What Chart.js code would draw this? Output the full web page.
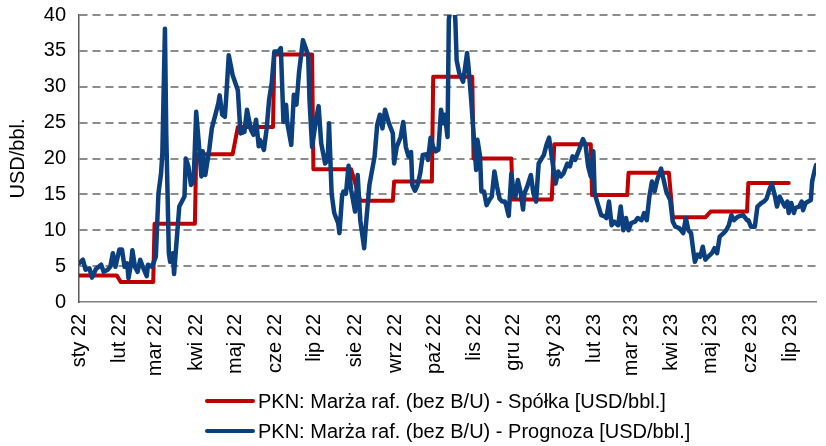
<!DOCTYPE html>
<html>
<head>
<meta charset="utf-8">
<script src="https://cdn.jsdelivr.net/npm/chart.js@4.4.0/dist/chart.umd.min.js"></script>
<style>
  body { margin: 0; background: #fff; }
  #wrap { position: relative; width: 826px; height: 446px; overflow: hidden; font-family: "Liberation Sans", Arial, sans-serif; }
  #legend { position: absolute; left: 205px; top: 386px; }
  .item { display: flex; align-items: center; height: 30px; font-size: 20px; color: #000; white-space: nowrap; }
  .swatch { width: 50px; height: 4px; border-radius: 2px; margin-right: 3px; }
</style>
</head>
<body>
<div id="wrap">
  <canvas id="chart" width="826" height="446"></canvas>
  <div id="legend"></div>
</div>
<script>
// x values are days counted from 1 Jan 2022
const monthLabels = ['sty 22', 'lut 22', 'mar 22', 'kwi 22', 'maj 22', 'cze 22', 'lip 22', 'sie 22', 'wrz 22',
  'paź 22', 'lis 22', 'gru 22', 'sty 23', 'lut 23', 'mar 23', 'kwi 23', 'maj 23', 'cze 23', 'lip 23'];
const monthStarts = [0, 31, 59, 90, 120, 151, 181, 212, 243, 273, 304, 334, 365, 396, 424, 455, 485, 516, 546];

// PKN: Marża raf. - Spółka (step line)
const spolkaDays = [0, 29, 32, 57, 58, 89, 90, 118, 122, 149, 150, 179, 180, 209, 216, 241, 242, 271, 272,
  302, 303, 332, 333, 363, 365, 393, 394, 421, 422, 453, 456, 481, 485, 513, 514, 545];
const spolkaValues = [3.7, 3.7, 2.8, 2.8, 10.9, 10.9, 20.6, 20.6, 24.4, 24.4, 34.5, 34.5, 18.5, 18.5, 14.1, 14.1, 16.8, 16.8, 31.4,
  31.4, 20.0, 20.0, 14.3, 14.3, 22.0, 22.0, 14.9, 14.9, 18.0, 18.0, 11.8, 11.8, 12.6, 12.6, 16.6, 16.6];

// PKN: Marża raf. - Prognoza
const prognozaDays = [0, 3, 5, 8, 10, 13, 17, 19, 22, 24, 26, 28, 31, 33, 35, 37, 38, 40, 41, 43, 45, 47, 49, 52, 53, 56,
  59, 61, 63, 64, 66, 67, 69, 70, 72, 73, 75, 77, 79, 81, 82, 84, 86, 88, 90, 92, 94, 95, 97, 98, 100, 102, 104, 107, 108,
  110, 112, 113, 115, 118, 122, 124, 127, 129, 132, 134, 136, 138, 139, 142, 144, 146, 148, 150, 153, 155, 157, 159, 160,
  163, 165, 167, 169, 172, 176, 177, 179, 182, 184, 186, 189, 191, 192, 194, 196, 199, 200, 202, 203, 205, 207, 209, 212,
  214, 216, 219, 220, 223, 227, 229, 231, 233, 235, 238, 241, 242, 244, 247, 249, 251, 253, 255, 256, 258, 260, 262, 264,
  267, 268, 270, 272, 274, 276, 278, 280, 281, 283, 284, 287, 289, 290, 292, 295, 298, 299, 301, 303, 305, 306, 308, 309,
  311, 313, 315, 317, 319, 321, 323, 325, 327, 328, 330, 332, 333, 335, 337, 339, 341, 342, 344, 347, 349, 351, 353, 357,
  359, 361, 363, 366, 368, 370, 372, 375, 377, 379, 381, 384, 387, 389, 391, 393, 395, 396, 399, 401, 404, 405, 407, 409,
  411, 414, 416, 418, 420, 422, 424, 427, 429, 432, 434, 436, 438, 440, 442, 444, 447, 449, 451, 454, 456, 458, 461, 464,
  466, 468, 470, 472, 473, 475, 477, 479, 481, 483, 486, 488, 490, 492, 495, 497, 499, 501, 503, 506, 510, 513, 514, 516,
  519, 521, 524, 526, 528, 530, 532, 534, 536, 538, 540, 542, 544, 545, 547, 549, 550, 553, 555, 556, 558, 560, 562, 563,
  565, 566];
const prognozaValues = [5.4, 5.9, 4.5, 4.7, 3.4, 4.6, 5.2, 4.2, 4.5, 4.9, 6.8, 4.9, 7.3, 7.3, 4.9, 5.4, 3.3, 5.4, 7.2, 4.9,
  4.2, 5.9, 4.9, 3.6, 5.2, 4.9, 6.3, 15.1, 17.9, 20.7, 38.1, 23.5, 6.8, 5.6, 6.8, 3.9, 8.6, 13.3, 14.0, 14.7, 20.0, 18.9,
  16.3, 16.8, 26.5, 22.1, 17.5, 21.0, 17.7, 18.9, 21.2, 24.2, 25.6, 27.7, 28.8, 26.1, 25.8, 28.4, 34.4, 31.6, 29.5, 23.5,
  23.7, 26.8, 24.0, 23.3, 25.4, 21.7, 22.6, 21.2, 24.0, 28.2, 30.5, 34.9, 34.9, 35.4, 25.1, 27.5, 24.9, 21.9, 28.9, 27.5,
  32.1, 36.5, 34.4, 28.2, 21.6, 25.4, 27.3, 22.1, 19.3, 19.8, 24.9, 15.1, 12.4, 11.0, 9.6, 14.7, 15.4, 15.1, 19.0, 15.6,
  12.6, 17.7, 11.4, 7.5, 10.0, 16.3, 20.3, 24.7, 26.1, 24.2, 26.8, 24.9, 23.5, 19.3, 21.6, 23.0, 25.1, 21.6, 20.3, 20.9,
  16.3, 15.5, 16.3, 17.9, 20.5, 20.6, 19.8, 22.9, 21.6, 21.0, 21.2, 26.8, 24.9, 26.1, 23.0, 39.3, 44.0, 39.3, 33.7, 31.9,
  30.7, 34.7, 33.0, 28.6, 23.5, 18.4, 22.6, 20.3, 15.4, 15.4, 13.5, 14.2, 14.7, 18.2, 16.1, 14.4, 14.0, 14.0, 13.5, 12.0,
  17.9, 16.5, 14.5, 17.0, 15.4, 12.9, 15.1, 16.0, 17.7, 15.1, 14.0, 19.3, 20.5, 21.9, 22.9, 20.3, 16.5, 18.2, 17.5, 17.9,
  19.3, 18.9, 20.3, 19.8, 21.2, 22.7, 21.9, 18.9, 17.5, 21.0, 15.1, 13.3, 12.1, 11.9, 11.7, 14.0, 10.7, 11.2, 10.7, 13.3,
  10.0, 11.7, 10.0, 11.0, 11.2, 11.7, 11.4, 12.4, 11.4, 14.7, 16.8, 15.4, 17.0, 18.6, 17.0, 15.4, 14.2, 11.2, 10.5, 10.3,
  9.6, 11.7, 10.0, 9.6, 6.8, 5.6, 6.6, 6.3, 7.7, 5.9, 6.3, 6.8, 7.5, 6.8, 9.1, 9.6, 10.0, 10.7, 12.1, 11.4, 11.9, 12.1,
  11.4, 11.4, 10.5, 10.5, 13.3, 13.8, 14.0, 14.4, 15.6, 16.5, 15.1, 13.3, 14.7, 14.0, 13.3, 14.0, 12.4, 13.8, 12.4, 13.1,
  13.3, 14.0, 12.8, 13.8, 14.0, 14.2, 16.8, 18.4, 19.1];

const seriesNames = ['PKN: Marża raf. (bez B/U) - Spółka [USD/bbl.]', 'PKN: Marża raf. (bez B/U) - Prognoza [USD/bbl.]'];
const seriesColors = ['#C00000', '#0B3F7E'];

Chart.defaults.font.family = '"Liberation Sans", Arial, sans-serif';
Chart.defaults.color = '#000';

function toPoints(xs, ys) {
  return xs.map((x, i) => ({ x: x, y: ys[i] }));
}

const tickFont = { size: 20 };

new Chart(document.getElementById('chart'), {
  type: 'line',
  data: {
    datasets: [
      {
        label: seriesNames[0],
        data: toPoints(spolkaDays, spolkaValues),
        borderColor: seriesColors[0],
        borderWidth: 4,
        pointRadius: 0,
        tension: 0,
        borderJoinStyle: 'round',
        borderCapStyle: 'round',
        order: 1
      },
      {
        label: seriesNames[1],
        data: toPoints(prognozaDays, prognozaValues),
        borderColor: seriesColors[1],
        borderWidth: 4.5,
        pointRadius: 0,
        tension: 0,
        borderJoinStyle: 'round',
        borderCapStyle: 'round',
        order: 0
      }
    ]
  },
  options: {
    responsive: false,
    animation: false,
    layout: { padding: { top: 15, left: 0, right: 0, bottom: 0 } },
    plugins: {
      legend: { display: false },
      tooltip: { enabled: false }
    },
    scales: {
      x: {
        type: 'linear',
        min: 0,
        max: 566,
        afterBuildTicks: (scale) => {
          scale.ticks = monthStarts.map(v => ({ value: v }));
        },
        afterFit: (scale) => { scale.height = 144; },
        grid: { display: false, drawTicks: false },
        border: { display: true, color: '#7f7f7f', width: 1.5 },
        ticks: {
          autoSkip: false,
          minRotation: 90,
          maxRotation: 90,
          padding: 12,
          font: tickFont,
          callback: (value, index) => monthLabels[index]
        }
      },
      y: {
        min: 0,
        max: 40,
        afterFit: (scale) => {
          scale.width = 79;
          // top label may overflow into the padding
          scale.paddingTop = 0;
          scale.paddingBottom = 0;
        },
        grid: {
          color: (ctx) => ctx.tick && ctx.tick.value === 0 ? 'rgba(0,0,0,0)' : '#8c8c8c',
          lineWidth: 2,
          drawTicks: false
        },
        border: { color: '#595959', width: 1.5, dash: [8, 5] },
        ticks: { stepSize: 5, padding: 13, font: tickFont },
        title: {
          display: true,
          text: 'USD/bbl.',
          font: { size: 20, lineHeight: 1 },
          padding: { top: 8, bottom: 0 }
        }
      }
    }
  }
});

// legend, one item per row, left aligned
const legendEl = document.getElementById('legend');
seriesNames.forEach((name, i) => {
  const row = document.createElement('div');
  row.className = 'item';
  const sw = document.createElement('span');
  sw.className = 'swatch';
  sw.style.background = seriesColors[i];
  const txt = document.createElement('span');
  txt.textContent = name;
  row.appendChild(sw);
  row.appendChild(txt);
  legendEl.appendChild(row);
});
</script>
</body>
</html>
